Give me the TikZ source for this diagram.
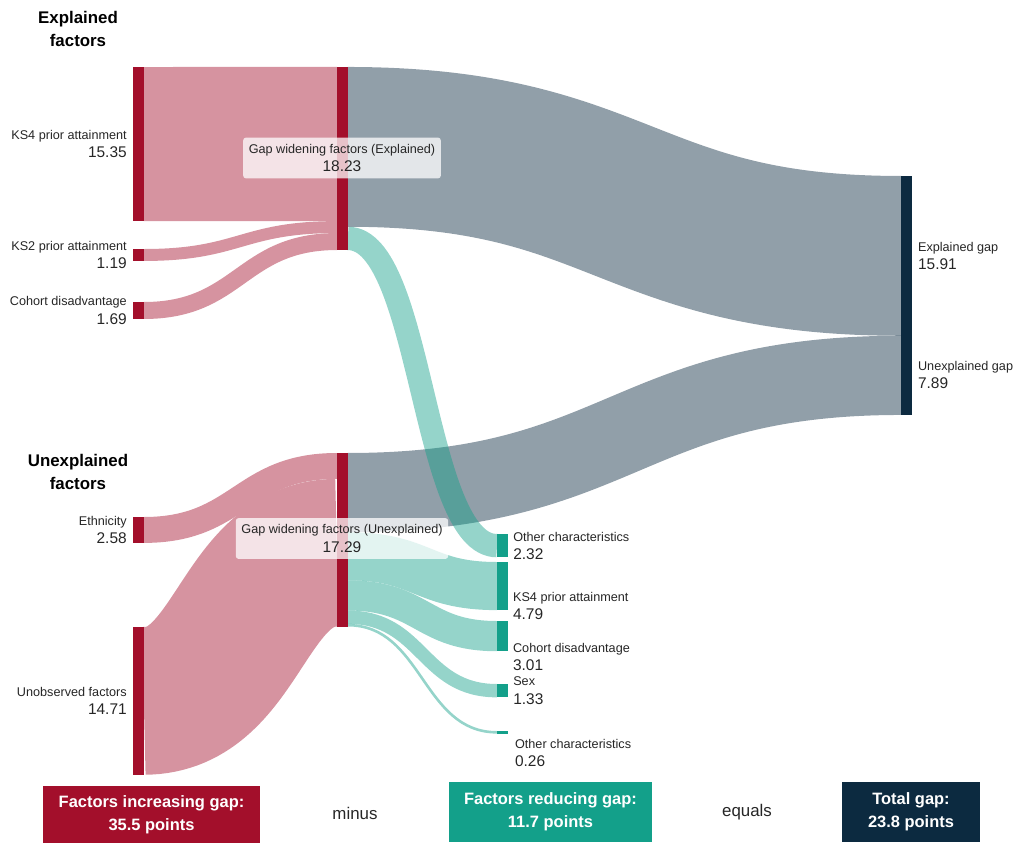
\documentclass[tikz,border=0pt]{standalone}
\usepackage{fontspec}
\setmainfont{Liberation Sans}
\usepackage{tikz}
\usetikzlibrary{calc,positioning}
\pgfdeclarelayer{flows}
\pgfsetlayers{flows,main}
\definecolor{gapred}{HTML}{A30F2B}
\definecolor{gapteal}{HTML}{13A08A}
\definecolor{gapnavy}{HTML}{0C2A40}
\newcommand{\pu}{10.04}% px per point of gap
\newcommand{\gapval}[1]{{\fontsize{11}{13}\selectfont #1}}
\tikzset{
  bar/.style = {rectangle, inner sep=0pt, outer sep=0pt, anchor=north west,
    minimum width=0.27cm, minimum height=#1*0.251cm},
  bar_r/.style = {bar=#1, fill=gapred},% gap increasing
  bar_t/.style = {bar=#1, fill=gapteal},% gap reducing
  bar_n/.style = {bar=#1, fill=gapnavy},% total gap
  flow/.style = {line width=#1*0.251cm},
  flow_r/.style = {flow=#1, draw=gapred!45},
  flow_g/.style = {flow=#1, draw=gapnavy, draw opacity=0.45},
  flow_t/.style = {flow=#1, draw=gapteal, draw opacity=0.45},
  lab/.style = {inner sep=0pt, text=black!85, font=\fontsize{9}{13}\selectfont},
  lab_l/.style = {lab, align=right, anchor=east},
  lab_r/.style = {lab, align=left, anchor=west},
  lab_m/.style = {lab, align=center, fill=white, fill opacity=0.75, text opacity=1,
    rounded corners=2pt, inner xsep=0.14cm, minimum height=1.02cm},
  heading/.style = {align=center, font=\bfseries\fontsize{12}{16.4}\selectfont},
  box_total/.style = {align=center, text=white, inner sep=0pt,
    font=\bfseries\fontsize{11.7}{16.5}\selectfont},
  word/.style = {font=\fontsize{12}{14}\selectfont, text=black!85}
}

\begin{document}
\begin{tikzpicture}[x=0.025cm, y=-0.025cm]
\useasboundingbox (0,0) rectangle (1015,843);

% sankey nodes
\node[bar_r=15.35] (ks4) at (133,67) {};
\node[bar_r=1.19] (ks2) at (133,249) {};
\node[bar_r=1.69] (coh) at (133,302) {};
\node[bar_r=2.58] (eth) at (133,517) {};
\node[bar_r=14.71] (unobs) at (133,627) {};
\node[bar_r=18.23] (midE) at (337,67) {};
\node[bar_r=17.29] (midU) at (337,453) {};
\node[bar_n=23.8] (gap) at (901,176) {};
\node[bar_t=2.32] (oth1) at (497,534) {};
\node[bar_t=4.79] (ks4r) at (497,562) {};
\node[bar_t=3.01] (cohr) at (497,621) {};
\node[bar_t=1.33] (sexr) at (497,684) {};
\node[bar_t=0.26] (oth2) at (497,731) {};

% links
\begin{pgfonlayer}{flows}
\draw[flow_r=15.35] (ks4.east) .. controls +(96,0) and +(-96,0) .. ($(midE.north west)+(0,7.675*\pu)$);
\draw[flow_r=1.19] (ks2.east) .. controls +(96,0) and +(-96,0) .. ($(midE.north west)+(0,15.945*\pu)$);
\draw[flow_r=1.69] (coh.east) .. controls +(96,0) and +(-96,0) .. ($(midE.north west)+(0,17.385*\pu)$);
\draw[flow_r=2.58] (eth.east) .. controls +(96,0) and +(-96,0) .. ($(midU.north west)+(0,1.29*\pu)$);
\draw[flow_r=14.71] (unobs.east) .. controls +(96,0) and +(-96,0) .. ($(midU.north west)+(0,9.935*\pu)$);
\draw[flow_g=15.91] ($(midE.north east)+(0,7.955*\pu)$) .. controls +(276,0) and +(-276,0) .. ($(gap.north west)+(0,7.955*\pu)$);
\draw[flow_g=7.89] ($(midU.north east)+(0,3.945*\pu)$) .. controls +(276,0) and +(-276,0) .. ($(gap.north west)+(0,19.855*\pu)$);
\draw[flow_t=2.32] ($(midE.north east)+(0,17.07*\pu)$) .. controls +(75,0) and +(-75,0) .. (oth1.west);
\draw[flow_t=4.79] ($(midU.north east)+(0,10.285*\pu)$) .. controls +(75,0) and +(-75,0) .. (ks4r.west);
\draw[flow_t=3.01] ($(midU.north east)+(0,14.185*\pu)$) .. controls +(75,0) and +(-75,0) .. (cohr.west);
\draw[flow_t=1.33] ($(midU.north east)+(0,16.355*\pu)$) .. controls +(75,0) and +(-75,0) .. (sexr.west);
\draw[flow_t=0.26] ($(midU.north east)+(0,17.15*\pu)$) .. controls +(75,0) and +(-75,0) .. (oth2.west);
\end{pgfonlayer}

% labels
\node[heading] (expl_h) at (78,28.5) {Explained\\factors};
\node[heading] (unexpl_h) at (78,471.5) {Unexplained\\factors};
\node[lab_l, left=0.15cm of ks4] (ks4_l) {KS4 prior attainment\\\gapval{15.35}};
\node[lab_l, left=0.15cm of ks2] (ks2_l) {KS2 prior attainment\\\gapval{1.19}};
\node[lab_l, left=0.15cm of coh] (coh_l) {Cohort disadvantage\\\gapval{1.69}};
\node[lab_l, left=0.15cm of eth] (eth_l) {Ethnicity\\\gapval{2.58}};
\node[lab_l, left=0.15cm of unobs] (unobs_l) {Unobserved factors\\\gapval{14.71}};
\node[lab_r] (expl_l) at ($(gap.north east)+(6,79.9)$) {Explained gap\\\gapval{15.91}};
\node[lab_r] (unexpl_l) at ($(gap.north east)+(6,199.3)$) {Unexplained gap\\\gapval{7.89}};
\node[lab_r, right=0.13cm of oth1] (oth1_l) {Other characteristics\\\gapval{2.32}};
\node[lab_r] (ks4r_l) at ($(ks4r.east)+(5,20)$) {KS4 prior attainment\\\gapval{4.79}};
\node[lab_r] (cohr_l) at ($(cohr.east)+(5,21)$) {Cohort disadvantage\\\gapval{3.01}};
\node[lab_r, right=0.13cm of sexr] (sexr_l) {Sex\\\gapval{1.33}};
\node[lab_r] (oth2_l) at ($(oth2.east)+(7,21)$) {Other characteristics\\\gapval{0.26}};
\node[lab_m] (midE_l) at (342,158) {Gap widening factors (Explained)\\\gapval{18.23}};
\node[lab_m] (midU_l) at (342,538.5) {Gap widening factors (Unexplained)\\\gapval{17.29}};

% totals
\node[box_total, fill=gapred, minimum width=5.425cm, minimum height=1.425cm] (incr) at (151.5,814.5) {Factors increasing gap:\\35.5 points};
\node[word] (minus) at (355,813) {minus};
\node[box_total, fill=gapteal, minimum width=5.075cm, minimum height=1.5cm] (redu) at (550.5,812) {Factors reducing gap:\\11.7 points};
\node[word] (equals) at (747,812) {equals};
\node[box_total, fill=gapnavy, minimum width=3.45cm, minimum height=1.5cm] (tot) at (911,812) {Total gap:\\23.8 points};
\end{tikzpicture}
\end{document}
